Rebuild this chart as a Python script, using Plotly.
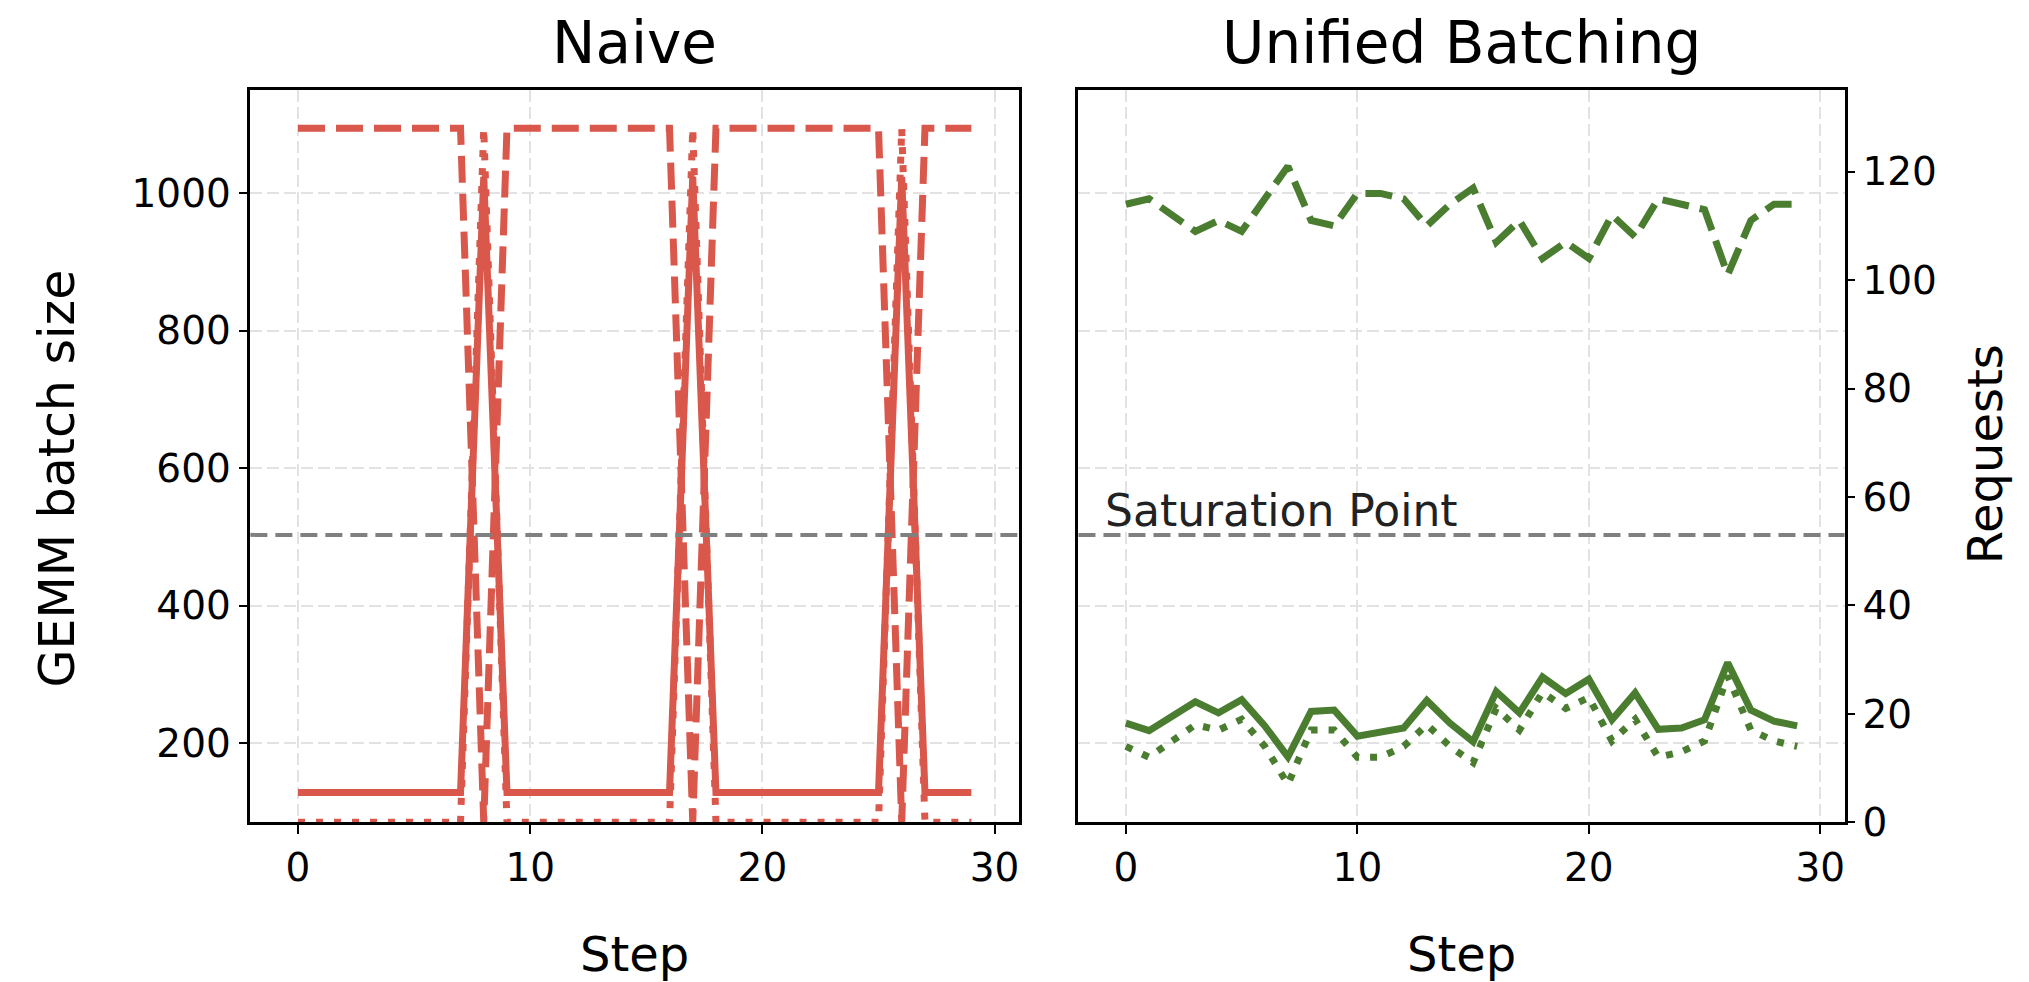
import plotly.graph_objects as go

# ---------------- data ----------------
steps = list(range(30))

# Naive
naive_gemm = [128, 128, 128, 128, 128, 128, 128, 128, 1024, 128,
              128, 128, 128, 128, 128, 128, 128, 1024, 128, 128,
              128, 128, 128, 128, 128, 128, 1024, 128, 128, 128]
naive_decode = [128, 128, 128, 128, 128, 128, 128, 128, 0, 128,
                128, 128, 128, 128, 128, 128, 128, 0, 128, 128,
                128, 128, 128, 128, 128, 128, 0, 128, 128, 128]
naive_prefill = [0, 0, 0, 0, 0, 0, 0, 0, 128, 0,
                 0, 0, 0, 0, 0, 0, 0, 128, 0, 0,
                 0, 0, 0, 0, 0, 0, 128, 0, 0, 0]

# Unified Batching
uni_gemm = [229, 218, 239, 260, 244, 263, 225, 180, 246, 248,
            210, 215, 222, 262, 229, 202, 275, 244, 296, 272,
            293, 234, 273, 220, 222, 234, 317, 248, 232, 225]
uni_decode = [114, 115, 112, 109, 111, 109, 115, 121, 111, 110,
              116, 116, 115, 110, 114, 117, 107, 111, 104, 107,
              104, 112, 108, 115, 114, 113, 101, 111, 114, 114]
uni_prefill = [14, 12, 15, 18, 17, 19, 14, 7, 17, 17,
               12, 12, 14, 18, 14, 11, 21, 17, 24, 21,
               23, 15, 19, 12, 13, 15, 27, 17, 15, 14]

saturation = 503
gemm_ticks = [200, 400, 600, 800, 1000]
req_ticks = [0, 20, 40, 60, 80, 100, 120]
step_ticks = [0, 10, 20, 30]

# ---------------- styling ----------------
W, H = 2029, 982
RED = "#d9574b"
GREEN = "#4a7d30"
FONT = "DejaVu Sans"
LW = 7
DASH = "27px,11px"
DOT = "7px,11px"


def fx(px):
    return px / W


def fy(py):
    return 1 - py / H


TOP, BOT = 92, 842
LX = (250.5, 1019.5)
RX = (1079.0, 1845.5)
XR = [-2.05, 31.05]
GR = [84.7, 1150.7]
RR = [0, 135.1]

fig = go.Figure()

# left panel
fig.add_trace(go.Scatter(x=steps, y=naive_gemm, mode="lines", xaxis="x", yaxis="y",
                         line=dict(color=RED, width=LW), showlegend=False))
fig.add_trace(go.Scatter(x=steps, y=naive_decode, mode="lines", xaxis="x", yaxis="y3",
                         line=dict(color=RED, width=LW, dash=DASH), showlegend=False))
fig.add_trace(go.Scatter(x=steps, y=naive_prefill, mode="lines", xaxis="x", yaxis="y3",
                         line=dict(color=RED, width=LW, dash=DOT), showlegend=False))
# right panel
fig.add_trace(go.Scatter(x=steps, y=uni_gemm, mode="lines", xaxis="x2", yaxis="y2",
                         line=dict(color=GREEN, width=LW), showlegend=False))
fig.add_trace(go.Scatter(x=steps, y=uni_decode, mode="lines", xaxis="x2", yaxis="y4",
                         line=dict(color=GREEN, width=LW, dash=DASH), showlegend=False))
fig.add_trace(go.Scatter(x=steps, y=uni_prefill, mode="lines", xaxis="x2", yaxis="y4",
                         line=dict(color=GREEN, width=LW, dash=DOT), showlegend=False))

axis_common = dict(
    showline=True, linecolor="black", linewidth=2.5, mirror=True,
    showgrid=True, gridcolor="#e2e2e2", gridwidth=2, griddash="12px,5px",
    zeroline=False, ticks="outside", ticklen=9, tickwidth=2, tickcolor="black",
    tickfont=dict(family=FONT, size=39, color="black"),
)

fig.update_layout(
    width=W, height=H,
    margin=dict(l=0, r=0, t=0, b=0),
    paper_bgcolor="white", plot_bgcolor="white",
    font=dict(family=FONT, color="black"),
    xaxis=dict(domain=[fx(LX[0]), fx(LX[1])], range=XR, anchor="y",
               tickvals=step_ticks, **axis_common),
    yaxis=dict(domain=[fy(BOT), fy(TOP)], range=GR, anchor="x",
               tickvals=gemm_ticks, **axis_common),
    yaxis3=dict(overlaying="y", anchor="x", range=RR, visible=False),
    xaxis2=dict(domain=[fx(RX[0]), fx(RX[1])], range=XR, anchor="y2",
                tickvals=step_ticks, **axis_common),
    yaxis2=dict(domain=[fy(BOT), fy(TOP)], range=GR, anchor="x2",
                tickvals=gemm_ticks, **{**axis_common, "ticks": "", "showticklabels": False}),
    yaxis4=dict(overlaying="y2", anchor="x2", side="right", range=RR,
                tickvals=req_ticks, showgrid=False, zeroline=False, showline=False,
                ticks="outside", ticklen=9, tickwidth=2, tickcolor="black",
                tickfont=dict(family=FONT, size=39, color="black")),
)

# saturation lines
for xr, yr in (("x domain", "y"), ("x2 domain", "y2")):
    fig.add_shape(type="line", xref=xr, yref=yr, x0=0, x1=1, y0=saturation, y1=saturation,
                  line=dict(color="#808080", width=4, dash="17px,8px"), layer="above")

ann = [
    dict(text="Naive", x=fx((LX[0] + LX[1]) / 2), y=fy(44), size=58, angle=0),
    dict(text="Unified Batching", x=fx((RX[0] + RX[1]) / 2), y=fy(44), size=58, angle=0),
    dict(text="Step", x=fx((LX[0] + LX[1]) / 2), y=fy(977), size=48, angle=0),
    dict(text="Step", x=fx((RX[0] + RX[1]) / 2), y=fy(977), size=48, angle=0),
    dict(text="GEMM batch size", x=fx(58), y=fy(490), size=49, angle=-90),
    dict(text="Requests", x=fx(1986), y=fy(465), size=48, angle=-90),
]
for a in ann:
    fig.add_annotation(text=a["text"], x=a["x"], y=a["y"], xref="paper", yref="paper",
                       showarrow=False, xanchor="center", yanchor="middle", textangle=a["angle"],
                       font=dict(family=FONT, size=a["size"], color="black"))

fig.add_annotation(text="Saturation Point", x=-1.0, xref="x2", y=538, yref="y2",
                   xanchor="left", yanchor="middle", showarrow=False,
                   font=dict(family=FONT, size=44, color="#222222"))

fig.write_html("out.html")
